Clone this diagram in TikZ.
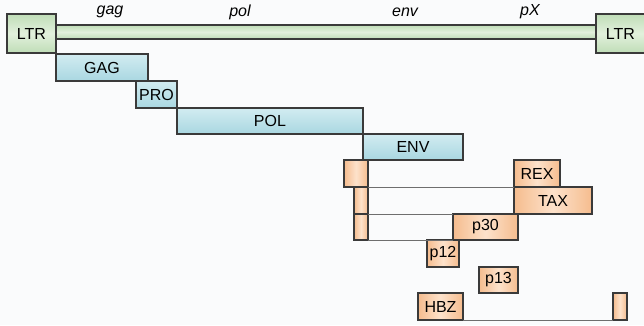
\documentclass[tikz,border=0pt]{standalone}
\usepackage{fontspec}
\setmainfont{Liberation Sans}
\usetikzlibrary{positioning}
\definecolor{bgpaper}{HTML}{FAFBFC}
\definecolor{boxline}{HTML}{3A3A3A}
\definecolor{linkgray}{HTML}{6E6E6E}
\definecolor{ltrdark}{HTML}{BFDDB7}
\definecolor{ltrlight}{HTML}{E2F0DC}
\definecolor{gagdark}{HTML}{A9D7E1}
\definecolor{gaglight}{HTML}{D2ECF1}
\definecolor{accdark}{HTML}{F5BC8E}
\definecolor{acclight}{HTML}{FDE2CB}

\begin{document}
\begin{tikzpicture}[x=1pt, y=-1pt,
	box/.style = {draw=boxline, line width=1.5pt, inner sep=0pt, outer sep=0pt, anchor=north west, font=\fontsize{16}{19}\selectfont},
	ltr/.style = {box, top color=ltrdark, bottom color=ltrdark, middle color=ltrlight},
	gene/.style = {box, top color=gaglight, bottom color=gagdark},
	acc/.style = {box, left color=accdark, right color=accdark, middle color=acclight},
	orf/.style = {font=\fontsize{16}{19}\selectfont\itshape, inner sep=0pt},
	link/.style = {draw=linkgray, line width=0.9pt}]
					\clip (0,0) rectangle (644,325);
					\fill[bgpaper] (0,0) rectangle (644,325);
					% provirus
					\node[ltr, minimum width=540, minimum height=14, line width=1.8pt] (bar) at (56,25) {};
					\node[ltr, minimum width=49, minimum height=39] (ltrL) at (7,14) {LTR};
					\node[ltr, minimum width=52, minimum height=39] (ltrR) at (596,14) {\hspace*{-3pt}LTR};
					\node[orf] (lgag) at (110,12) {gag};
					\node[orf] (lpol) at (240,12) {pol};
					\node[orf] (lenv) at (405,12) {env};
					\node[orf] (lpx) at (530,12) {pX};
					% structural and enzymatic products
					\node[gene, minimum width=92, minimum height=27] (gag) at (56,54) {GAG};
					\node[gene, minimum width=41, minimum height=27] (pro) at (136,81) {PRO};
					\node[gene, minimum width=186, minimum height=26] (pol) at (177,108) {POL};
					\node[gene, minimum width=100, minimum height=26] (env) at (363,134) {ENV};
					% accessory products
					\node[acc, minimum width=24, minimum height=27] (xa) at (344,160) {};
					\node[acc, minimum width=46, minimum height=27] (rex) at (514,160) {REX};
					\node[acc, minimum width=14, minimum height=27] (xb) at (354,187) {};
					\node[acc, minimum width=78, minimum height=27] (tax) at (514,187) {TAX};
					\node[acc, minimum width=14, minimum height=26] (xc) at (354,214) {};
					\node[acc, minimum width=65, minimum height=26] (p30) at (453,214) {p30};
					\node[acc, minimum width=32, minimum height=27] (p12) at (427,240) {p12};
					\node[acc, minimum width=39, minimum height=26] (p13) at (479,267) {p13};
					\node[acc, minimum width=45, minimum height=27] (hbz) at (418,293) {HBZ};
					\node[acc, minimum width=14, minimum height=27] (xd) at (613,293) {};
					\draw[link] (xa.south east) -- (rex.south west);
					\draw[link] (xb.south east) -- (p30.north west);
					\draw[link] (xc.south east) -- (p30.south west);
					\draw[link] (hbz.south east) -- (xd.south west);
				\end{tikzpicture}
\end{document}
